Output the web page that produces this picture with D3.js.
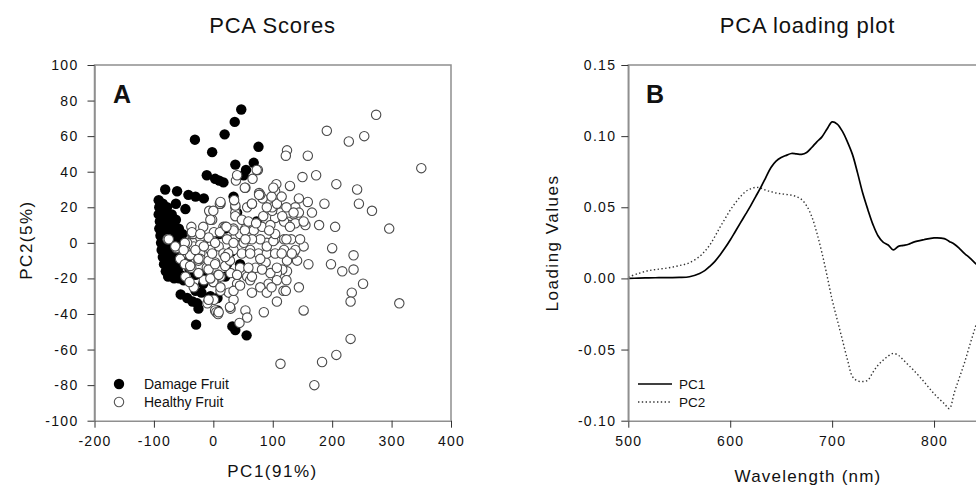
<!DOCTYPE html>
<html><head><meta charset="utf-8">
<script src="https://cdn.jsdelivr.net/npm/d3@7"></script>
<style>
body{margin:0;background:#fff}
svg{display:block}
text{font-family:Arial,"Liberation Sans",sans-serif;fill:#111}
</style>
</head><body>
<svg id="c" width="976" height="485"></svg>
<script>
// ---------- Panel A data: PCA scores (PC1, PC2) ----------
const damageScores = [
[47,75],[36,68],[19,61],[-31,58],[-2,51],[76,54],[68,45],[37,44],[55,41],[51,38],[-11,38],[3,36],[17,34],[10,35],[34,26],[40,17],[73,12],
[-81,30],[-61,29],[-42,27],[-30,26],[-16,25],[-63,22],[-47,19],
[-92,24],[-91,20],[-92,16],[-90,12],[-91,8],[-89,4],[-88,0],[-87,-4],[-85,-8],[-83,-12],[-80,-16],[-76,-19],
[-85,22],[-84,17],[-83,12],[-84,7],[-82,3],[-81,-2],[-79,-6],[-77,-10],[-74,-14],[-70,-18],[-66,-20],
[-78,20],[-77,14],[-75,9],[-74,4],[-72,0],[-70,-5],[-68,-9],[-65,-13],[-62,-17],[-58,-20],
[-70,16],[-68,10],[-65,6],[-62,2],[-60,-3],[-57,-8],[-54,-12],[-60,-15],
[-63,13],[-58,8],[-52,5],[-50,0],[-48,-6],[-45,-10],[-55,-18],[-50,-21],
[-55,-29],[-44,-31],[-27,-34],[-25,-37],[-29,-46],[7,-31],[7,-38],[32,-47],[37,-49],[56,-52],
[-17,-23],[-30,-27],[-10,-17],[23,-12],[20,-19],[40,-18],[-20,-28],[-35,-33],[-40,-15],[-30,-18],
[-25,-2],[-15,2],[10,5],[20,8],[35,2],[30,-5],[45,-12],[-5,-30],[0,-22]
];
const healthyScores = [
[274,72],[191,63],[228,57],[254,60],[350,42],[124,52],[122,49],[159,49],[75,41],[54,31],[77,28],[83,25],[106,33],[104,29],[129,32],[150,37],[173,38],[207,33],[242,30],[245,22],[267,18],[296,8],[187,22],[205,9],[178,10],[155,10],[166,17],[159,23],[144,25],[138,20],[135,16],[118,19],[113,17],[104,14],[99,18],[128,10],[138,11],[131,2],[152,-2],[200,-3],[198,-12],[217,-16],[236,-7],[236,-15],[252,-23],[233,-28],[231,-33],[313,-34],[231,-54],[207,-63],[183,-67],[113,-68],[170,-80],[152,-38],[144,-25],[141,-10],[160,-12],[124,-16],[116,-15],[107,-17],[118,-27],[107,-33],[85,-39],[54,-38],[57,-42],[44,-45],[29,-37],[3,-38],[93,-23],[79,-25],[65,-28],[96,-17],[88,-11],[71,-14],[57,-19],[40,-23],[29,-17],[12,-19],[-2,-21],[-11,-14],[-25,-10],[-39,-14],[-47,-19],[-33,-2],[-16,3],[1,6],[17,9],[34,8],[54,8],[68,7],[82,9],[96,10],[119,12],[119,2],[104,2],[90,0],[79,2],[65,2],[51,0],[37,3],[23,2],[9,-2],[-5,-4],[-22,-6],[17,-6],[34,-4],[48,-6],[62,-4],[76,-6],[90,-6],[104,-6],[119,-4],[135,-6],[124,-10],[3,-11],[20,-13],[45,-14],[82,-15],[62,-21],[90,-28],[26,-28],[12,-27],[34,-32],[1,-32],[-16,-21],[-33,-25],
[12,22],[-5,17],[-2,13],[37,20],[37,17],[57,20],[65,22],[79,27],[99,20],[107,22],[127,17],[20,9],[-22,3],[-36,5],[-44,0],[-50,-6],
[-77,2],[-62,-3],[-48,0],[-34,5],[-37,9],[-17,9],[-7,18],[0,18],[-5,13],[11,22],[11,6],[-8,3],[-22,-1],[-39,-7],[-56,-9],[-48,-12],[-37,-14],[-40,-22],[-22,-9],[-8,-10],[-8,-15],[3,-12],[8,-18],[0,-22],[-10,-34],[5,-39],[8,-40],[28,-36],[34,-27],[40,-18],[28,-10],[25,-6],[34,0],[45,5],[53,7],[34,7],[22,9],[37,15],[37,21],[35,24],[38,35],[40,38],[53,31],[66,36],[73,41],[77,27],[65,22],[48,13],[59,12],[72,11],[54,2],[62,-6],[59,-14],[45,-24],[65,-19],[79,-9],[90,-2],[101,1],[104,5],[94,7],[84,15],[90,20],[98,26],[101,31],[115,26],[123,20],[116,15],[129,9],[123,2],[115,-6],[107,-14],[107,-21],[98,-25],[122,-27],[123,-21],[138,-4],[132,-6],[146,2],[144,17],[152,12],[135,17],
[12,23],[-36,6],[-22,5],[-75,2],[-64,-2],[-50,-4],[-30,-4],[-16,-2],[-2,-6],[-25,-9],[-39,-13],[-25,-17],[-5,-20],[9,-18],[12,-25],[-8,-32],[9,-39],[20,-8],[3,0]
];
const scoreXTicks = [-200,-100,0,100,200,300,400];
const scoreYTicks = [100,80,60,40,20,0,-20,-40,-60,-80,-100];

// ---------- Panel B data: loadings ----------
const wavelength = [500,510,520,530,540,550,560,570,575,580,585,590,595,600,605,610,615,620,625,630,635,640,645,650,655,660,665,670,675,680,685,690,695,700,705,710,715,720,725,730,735,740,745,750,755,760,765,770,775,780,790,800,810,815,820,825,830,835,840,845,850];
const loadingPC1 = [0.000,0.0002,0.0004,0.0005,0.0006,0.0007,0.0012,0.0035,0.0055,0.0085,0.012,0.0165,0.0215,0.027,0.033,0.039,0.045,0.051,0.0575,0.064,0.071,0.078,0.0825,0.085,0.0865,0.0878,0.0875,0.0872,0.0885,0.092,0.096,0.0995,0.105,0.110,0.1085,0.1035,0.096,0.087,0.074,0.060,0.0485,0.038,0.030,0.0255,0.0235,0.020,0.0225,0.0232,0.024,0.0255,0.0272,0.0285,0.028,0.026,0.024,0.021,0.0175,0.0145,0.011,0.0075,0.004];
const loadingPC2 = [0.001,0.0035,0.0055,0.0065,0.0075,0.009,0.011,0.0155,0.019,0.0235,0.0295,0.036,0.042,0.048,0.053,0.0575,0.061,0.063,0.064,0.0635,0.062,0.061,0.060,0.0595,0.059,0.0585,0.0575,0.0555,0.051,0.0435,0.032,0.018,0.002,-0.015,-0.029,-0.043,-0.057,-0.069,-0.072,-0.0725,-0.0715,-0.066,-0.061,-0.0575,-0.0545,-0.0527,-0.054,-0.0574,-0.061,-0.0645,-0.0725,-0.081,-0.088,-0.0915,-0.080,-0.0695,-0.059,-0.047,-0.0355,-0.024,-0.013];
const loadXTicks = [500,600,700,800];
const loadYTicks = [0.15,0.10,0.05,0.00,-0.05,-0.10];

// ---------- drawing ----------
const svg = d3.select('#c');
const FRAME = '#8f8f8f';
const intFmt = d => String(d);
const decFmt = d => (Math.abs(d) < 1e-9 ? 0 : d).toFixed(2);

function styleAxis(g){
  g.select('.domain').attr('stroke', FRAME).attr('stroke-width', 1.5);
  g.selectAll('.tick line').attr('stroke', '#333').attr('stroke-width', 1);
  g.selectAll('.tick text').attr('font-size', 14).attr('letter-spacing', '1.3px').attr('fill', '#111')
   .attr('font-family', 'Arial, "Liberation Sans", sans-serif');
}
function frameBox(x0, x1, y0, y1){
  svg.append('path')
    .attr('d', `M${x0},${y1}V${y0}H${x1}V${y1}`)
    .attr('fill', 'none').attr('stroke', FRAME).attr('stroke-width', 1.5);
}

// Panel A
const xA = d3.scaleLinear().domain([-200, 400]).range([94.5, 451]);
const yA = d3.scaleLinear().domain([-100, 100]).range([420.7, 65]);
frameBox(94.5, 451, 65, 420.7);

const gPts = svg.append('g');
gPts.selectAll('circle.d').data(damageScores).join('circle')
  .attr('class', 'd').attr('cx', d => xA(d[0])).attr('cy', d => yA(d[1]))
  .attr('r', 5.2).attr('fill', '#000');
gPts.selectAll('circle.h').data(healthyScores).join('circle')
  .attr('class', 'h').attr('cx', d => xA(d[0])).attr('cy', d => yA(d[1]))
  .attr('r', 4.7).attr('fill', '#fff').attr('stroke', '#4a4a4a').attr('stroke-width', 1.1);

svg.append('g').attr('transform', 'translate(0,420.7)')
  .call(d3.axisBottom(xA).tickValues(scoreXTicks).tickSize(7).tickSizeOuter(0).tickPadding(8).tickFormat(intFmt))
  .call(styleAxis);
svg.append('g').attr('transform', 'translate(94.5,0)')
  .call(d3.axisLeft(yA).tickValues(scoreYTicks).tickSize(7).tickSizeOuter(0).tickPadding(9).tickFormat(intFmt))
  .call(styleAxis);

svg.append('text').attr('x', 272.5).attr('y', 33).attr('text-anchor', 'middle')
  .attr('font-size', 22).attr('letter-spacing', '0.8px').text('PCA Scores');
svg.append('text').attr('x', 272.5).attr('y', 477).attr('text-anchor', 'middle')
  .attr('font-size', 17).attr('letter-spacing', '1.5px').text('PC1(91%)');
svg.append('text').attr('transform', 'translate(32,240) rotate(-90)').attr('text-anchor', 'middle')
  .attr('font-size', 17).attr('letter-spacing', '1.5px').text('PC2(5%)');
svg.append('text').attr('x', 113).attr('y', 103).attr('font-size', 25).attr('font-weight', 'bold').text('A');

// legend A
svg.append('circle').attr('cx', 119).attr('cy', 384).attr('r', 5.2).attr('fill', '#000');
svg.append('circle').attr('cx', 119).attr('cy', 402).attr('r', 4.7).attr('fill', '#fff').attr('stroke', '#555').attr('stroke-width', 1.1);
svg.append('text').attr('x', 144).attr('y', 389).attr('font-size', 14).text('Damage Fruit');
svg.append('text').attr('x', 144).attr('y', 407).attr('font-size', 14).text('Healthy Fruit');

// Panel B
const xB = d3.scaleLinear().domain([500, 850]).range([628.3, 985]);
const yB = d3.scaleLinear().domain([-0.10, 0.15]).range([420.7, 65]);
frameBox(628.3, 985, 65, 420.7);

const line = (vals) => d3.line().curve(d3.curveCatmullRom.alpha(0.5))
  .x((d, i) => xB(wavelength[i])).y(d => yB(d))(vals);
svg.append('path').attr('d', line(loadingPC2)).attr('fill', 'none')
  .attr('stroke', '#333').attr('stroke-width', 1.4).attr('stroke-dasharray', '1.4,2.4');
svg.append('path').attr('d', line(loadingPC1)).attr('fill', 'none')
  .attr('stroke', '#000').attr('stroke-width', 1.7);

svg.append('g').attr('transform', 'translate(0,420.7)')
  .call(d3.axisBottom(xB).tickValues(loadXTicks).tickSize(7).tickSizeOuter(0).tickPadding(8).tickFormat(intFmt))
  .call(styleAxis);
svg.append('g').attr('transform', 'translate(628.3,0)')
  .call(d3.axisLeft(yB).tickValues(loadYTicks).tickSize(7).tickSizeOuter(0).tickPadding(5).tickFormat(decFmt))
  .call(styleAxis);

svg.append('text').attr('x', 807.5).attr('y', 33).attr('text-anchor', 'middle')
  .attr('font-size', 22).attr('letter-spacing', '0.8px').text('PCA loading plot');
svg.append('text').attr('x', 808).attr('y', 482).attr('text-anchor', 'middle')
  .attr('font-size', 17).attr('letter-spacing', '1.2px').text('Wavelength (nm)');
svg.append('text').attr('transform', 'translate(558,243) rotate(-90)').attr('text-anchor', 'middle')
  .attr('font-size', 17).attr('letter-spacing', '1.5px').text('Loading Values');
svg.append('text').attr('x', 646).attr('y', 103).attr('font-size', 25).attr('font-weight', 'bold').text('B');

// legend B
svg.append('line').attr('x1', 638).attr('x2', 672).attr('y1', 384).attr('y2', 384)
  .attr('stroke', '#000').attr('stroke-width', 1.5);
svg.append('line').attr('x1', 638).attr('x2', 672).attr('y1', 402).attr('y2', 402)
  .attr('stroke', '#333').attr('stroke-width', 1.3).attr('stroke-dasharray', '1.4,2.4');
svg.append('text').attr('x', 679).attr('y', 389).attr('font-size', 13.5).text('PC1');
svg.append('text').attr('x', 679).attr('y', 407).attr('font-size', 13.5).text('PC2');
</script>
</body></html>
